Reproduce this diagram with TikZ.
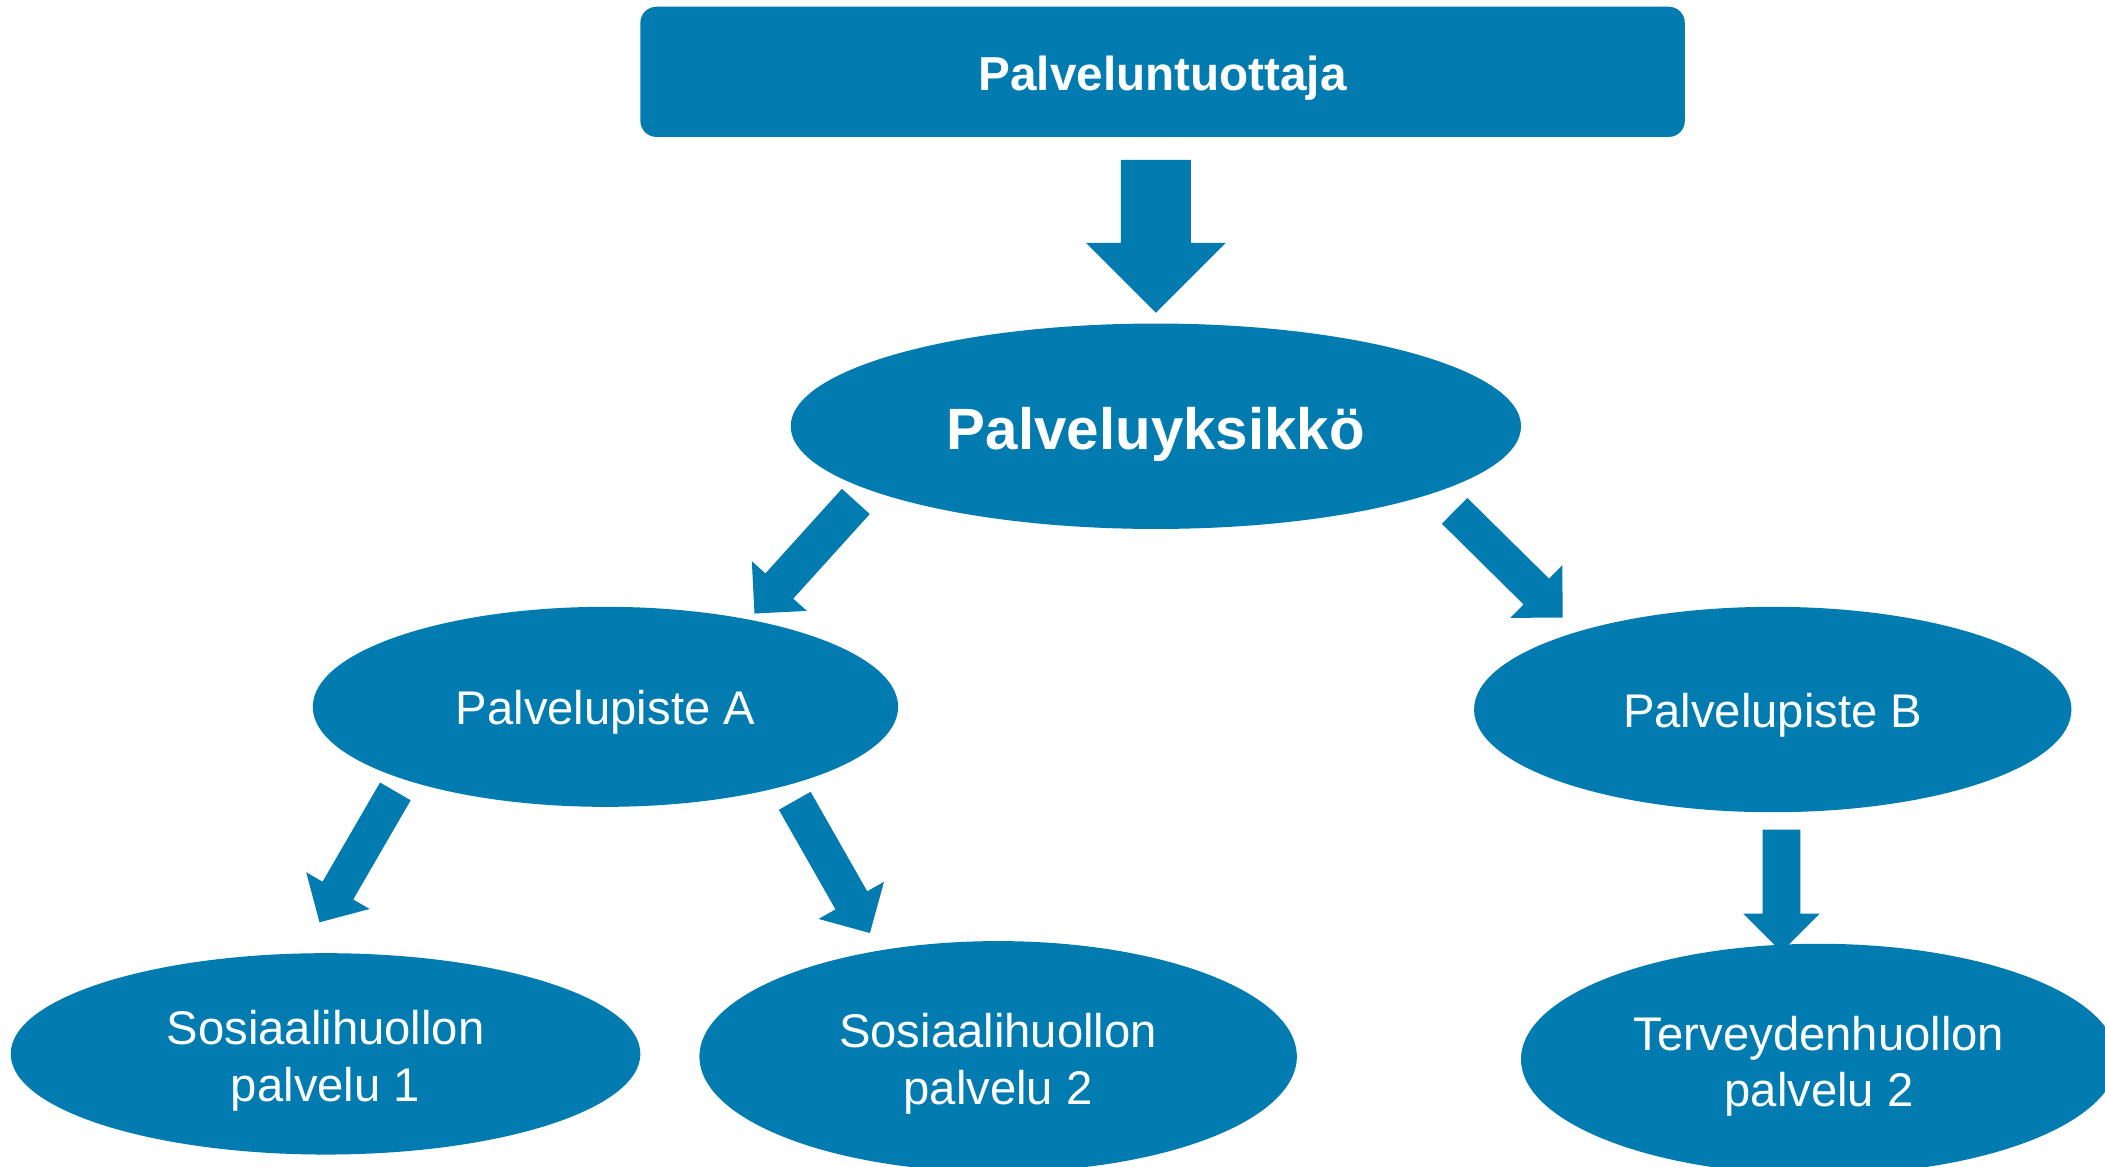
\documentclass[tikz,border=0pt]{standalone}
\usepackage{fontspec}
\setmainfont{Liberation Sans}
\usetikzlibrary{shapes.geometric,calc}
\definecolor{blu}{RGB}{1,123,176}
% block arrow: #1 start coordinate, #2 tip coordinate, #3 shaft half width, #4 head half width (= head length)
\newcommand\blockarr[4]{%
  \coordinate (#1-neck) at ($(#2)!#4!(#1)$);
  \fill[blu] ($(#1)!#3!90:(#2)$) -- ($(#1-neck)!#3!90:(#2)$) -- ($(#1-neck)!#4!90:(#2)$)
    -- (#2) -- ($(#1-neck)!#4!-90:(#2)$) -- ($(#1-neck)!#3!-90:(#2)$) -- ($(#1)!#3!-90:(#2)$) -- cycle;}
\newcommand\topstrut{\rule{0pt}{18pt}}
\begin{document}
\begin{tikzpicture}[x=0.5pt,y=-0.5pt,
  every node/.style={text=white, inner sep=0pt},
  oval/.style={ellipse, fill=blu, font=\fontsize{17.6}{21}\selectfont, align=center},
  oval1/.style={oval, text height=13pt, text depth=0pt}]
\clip (0,0) rectangle (1568,869);
\node[fill=blu, rounded corners=6pt, minimum width=389pt, minimum height=48.5pt,
  text height=14.2pt, text depth=0pt,
  font=\bfseries\fontsize{17.75}{21}\selectfont] (prov) at (866,53.5) {Palveluntuottaja};
\node[oval1, minimum width=272pt, minimum height=76.5pt, text height=17pt,
  font=\bfseries\fontsize{21.7}{26}\selectfont] (unit) at (861,317.5) {Palveluyksikkö};
\node[oval1, minimum width=218pt, minimum height=74.5pt] (pa) at (451,526.5) {Palvelupiste A};
\node[oval1, minimum width=222.5pt, minimum height=76.5pt, text height=13.6pt] (pb) at (1320.5,528.5) {Palvelupiste B};
\node[oval, minimum width=234.5pt, minimum height=75pt] (s1) at (242.5,785) {\topstrut Sosiaalihuollon\\palvelu 1};
\node[oval, minimum width=222.5pt, minimum height=86pt] (s2) at (743.5,787) {\topstrut Sosiaalihuollon\\palvelu 2};
\node[oval, minimum width=222pt, minimum height=86pt] (t2) at (1355,789) {\topstrut Terveydenhuollon\\palvelu 2};
% arrow end points
\coordinate (m0) at (861,119);      \coordinate (m1) at (861,233);
\coordinate (a0) at (637.5,373.5);  \coordinate (a1) at (562,457);
\coordinate (b0) at (1083.5,380.5); \coordinate (b1) at (1164,460);
\coordinate (c0) at (294.5,589.5);  \coordinate (c1) at (238,687);
\coordinate (d0) at (592,596.5);    \coordinate (d1) at (648,695);
\coordinate (e0) at (1327,618);     \coordinate (e1) at (1327,709);
\blockarr{m0}{m1}{13pt}{26pt}
\blockarr{a0}{a1}{7pt}{13.8pt}
\blockarr{b0}{b1}{6.75pt}{13.8pt}
\blockarr{c0}{c1}{6.6pt}{13.65pt}
\blockarr{d0}{d1}{6.8pt}{14pt}
\blockarr{e0}{e1}{7pt}{14.25pt}
\end{tikzpicture}
\end{document}
